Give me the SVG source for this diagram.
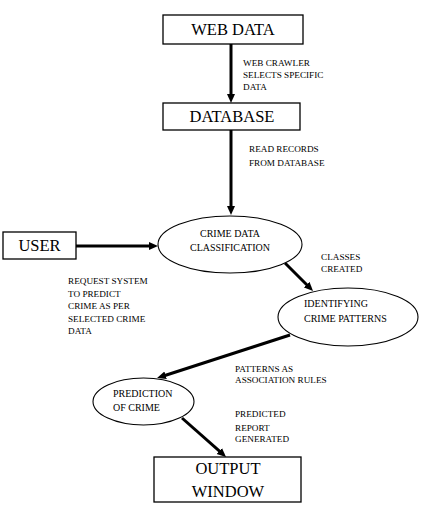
<svg xmlns="http://www.w3.org/2000/svg" width="431" height="510" viewBox="0 0 431 510">
<style>
.box{fill:#fff;stroke:#000;stroke-width:1.3}
.ell{fill:#fff;stroke:#000;stroke-width:1.1}
.arr{stroke:#000;stroke-width:3;fill:none;marker-end:url(#ah)}
</style>
<defs>
<marker id="ah" markerUnits="userSpaceOnUse" markerWidth="9" markerHeight="9" viewBox="0 0 9 9" refX="4" refY="4.5" orient="auto">
<path d="M0,0.5 L9,4.5 L0,8.5 z" fill="#000"/>
</marker>
</defs>
<rect width="431" height="510" fill="#fff"/>
<g id="connectors">
<line class="arr" x1="231" y1="44" x2="231" y2="98"/>
<line class="arr" x1="231" y1="130" x2="231" y2="210"/>
<line class="arr" x1="76" y1="246" x2="153" y2="246"/>
<line class="arr" x1="285" y1="263" x2="309.5" y2="287.5"/>
<line class="arr" x1="290" y1="335" x2="161.8" y2="376.5"/>
<line class="arr" x1="182" y1="418" x2="222.3" y2="453.7"/>
</g>
<g id="labels">
<text font-family="Liberation Serif" font-size="9.2" x="243" y="66">WEB CRAWLER</text>
<text font-family="Liberation Serif" font-size="9.2" x="243" y="78">SELECTS SPECIFIC</text>
<text font-family="Liberation Serif" font-size="9.2" x="243" y="90">DATA</text>
<text font-family="Liberation Serif" font-size="9.2" x="249" y="151.5">READ RECORDS</text>
<text font-family="Liberation Serif" font-size="9.2" x="249" y="165.5">FROM DATABASE</text>
<text font-family="Liberation Serif" font-size="9.2" x="68" y="284.3">REQUEST SYSTEM</text>
<text font-family="Liberation Serif" font-size="9.2" x="68" y="296.8">TO PREDICT</text>
<text font-family="Liberation Serif" font-size="9.2" x="68" y="309.3">CRIME AS PER</text>
<text font-family="Liberation Serif" font-size="9.2" x="68" y="321.8">SELECTED CRIME</text>
<text font-family="Liberation Serif" font-size="9.2" x="68" y="334.3">DATA</text>
<text font-family="Liberation Serif" font-size="9.2" x="321" y="260">CLASSES</text>
<text font-family="Liberation Serif" font-size="9.2" x="321" y="271.7">CREATED</text>
<text font-family="Liberation Serif" font-size="9.2" x="235" y="371.7">PATTERNS AS</text>
<text font-family="Liberation Serif" font-size="9.2" x="235" y="383.3">ASSOCIATION RULES</text>
<text font-family="Liberation Serif" font-size="9.2" x="235" y="417.3">PREDICTED</text>
<text font-family="Liberation Serif" font-size="9.2" x="235" y="430.5">REPORT</text>
<text font-family="Liberation Serif" font-size="9.2" x="235" y="441.7">GENERATED</text>
</g>
<g id="web-data">
<rect class="box" x="163" y="15" width="140" height="29"/>
<text font-family="Liberation Serif" font-size="16.5" text-anchor="middle" x="233" y="35">WEB DATA</text>
</g>
<g id="database">
<rect class="box" x="163" y="103" width="137" height="27"/>
<text font-family="Liberation Serif" font-size="16.5" text-anchor="middle" x="232" y="122">DATABASE</text>
</g>
<g id="user">
<rect class="box" x="3" y="232" width="73" height="27"/>
<text font-family="Liberation Serif" font-size="16.5" text-anchor="middle" x="39.5" y="251">USER</text>
</g>
<g id="crime-data-classification">
<ellipse class="ell" cx="230" cy="244.5" rx="72" ry="28.5"/>
<text font-family="Liberation Serif" font-size="10" text-anchor="middle" x="230" y="236.7">CRIME DATA</text>
<text font-family="Liberation Serif" font-size="10" text-anchor="middle" x="230" y="250.7">CLASSIFICATION</text>
</g>
<g id="identifying-crime-patterns">
<ellipse class="ell" cx="348" cy="317" rx="70" ry="29"/>
<text font-family="Liberation Serif" font-size="10" x="304" y="307.3">IDENTIFYING</text>
<text font-family="Liberation Serif" font-size="10" x="304" y="321.7">CRIME PATTERNS</text>
</g>
<g id="prediction-of-crime">
<ellipse class="ell" cx="143.5" cy="401.5" rx="50.5" ry="23.5"/>
<text font-family="Liberation Serif" font-size="10" x="113" y="397.3">PREDICTION</text>
<text font-family="Liberation Serif" font-size="10" x="113" y="410.7">OF CRIME</text>
</g>
<g id="output-window">
<rect class="box" x="154" y="457" width="147" height="45"/>
<text font-family="Liberation Serif" font-size="16.5" text-anchor="middle" x="228" y="474.3">OUTPUT</text>
<text font-family="Liberation Serif" font-size="16.5" text-anchor="middle" x="228" y="496.7">WINDOW</text>
</g>
</svg>
